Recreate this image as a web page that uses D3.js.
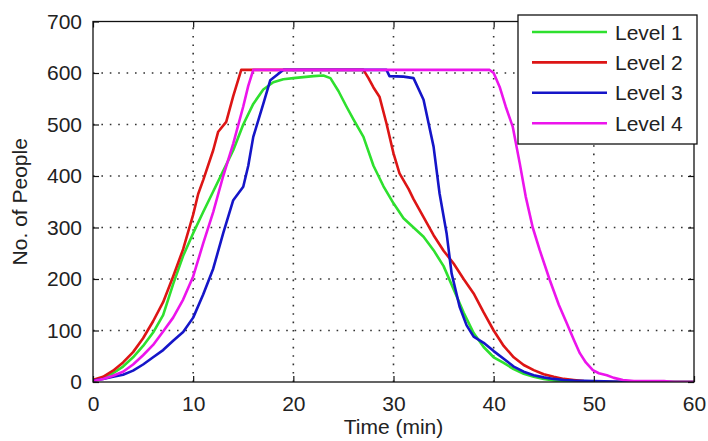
<!DOCTYPE html>
<html>
<head>
<meta charset="utf-8">
<script src="https://cdn.jsdelivr.net/npm/d3@7/dist/d3.min.js"></script>
<style>
html,body{margin:0;padding:0;background:#fff;}
svg{display:block;}
text{font-family:"Liberation Sans",Arial,sans-serif;fill:#222;}
</style>
</head>
<body>
<svg id="chart" width="708" height="441"></svg>
<script>
// ---- data ----
const seriesNames = ["Level 1", "Level 2", "Level 3", "Level 4"];
const seriesColors = ["#2ee02e", "#dd1515", "#1515c8", "#ec14ec"];

const level1T = [0,1,2,3,4,5,6,7,8,9,10,11,12,13,14,15,16,17,18,19,20,21,22,23,23.7,24.5,25.3,26,27,28,29,30,31,32,33,34,35,36,37,38,39,40,41,42,43,44,45,46,47,48,60];
const level1V = [3,8,17,30,48,70,96,130,190,245,289,330,370,410,450,500,540,568,582,588,590,592,594,595,590,565,535,510,476,420,380,347,318,300,282,256,225,180,135,95,68,48,37,25,16,10,6,3,1,0,0];

const level2T = [0,1,2,3,4,5,6,7,8,9,10,10.5,11,12,12.5,13.3,14,14.8,15,27,27.5,28,28.6,29.3,30,30.6,31.5,32,33,34,35,36,37,38,39,40,41,42,43,44,45,46,47,48,49,50,52,60];
const level2V = [4,10,22,38,58,85,118,155,205,258,325,365,392,450,486,505,555,606,606,606,590,572,554,502,444,405,375,355,320,285,255,230,200,172,135,100,70,48,33,23,15,10,6,4,2,1,0,0];

const level3T = [0,1,2,3,4,5,6,7,8,9,10,11,12,13,14,15,15.5,16,17,17.7,18.8,19,29.3,29.6,31,32,33,34,34.6,35.3,35.8,36.6,37.3,38,39,40,41,42,43,44,45,46,47,48,50,52,54,60];
const level3V = [3,6,10,14,22,34,48,62,80,97,125,170,220,289,353,379,420,476,540,586,603,606,606,594,593,590,548,457,366,289,211,146,110,88,76,60,45,30,20,13,9,6,4,3,2,1,0,0];

const level4T = [0,1,2,3,4,5,6,7,8,9,10,11,12,13,14,15,15.5,16,39.6,40,40.6,41.2,41.9,42.6,43.2,43.9,44.6,45.6,46.5,47.3,48,48.6,49.2,49.9,50.5,51.3,52,52.9,54,57,58,60];
const level4V = [2,6,12,20,34,52,72,98,125,160,205,269,330,400,463,535,575,606,606,600,573,535,496,425,360,300,256,198,150,114,82,56,38,23,17,13,8,4,2,2,0,0];

const xTicks = [0,10,20,30,40,50,60];
const yTicks = [0,100,200,300,400,500,600,700];
const xLabel = "Time (min)";
const yLabel = "No. of People";

const seriesT = [level1T, level2T, level3T, level4T];
const seriesV = [level1V, level2V, level3V, level4V];

// ---- layout ----
const W = 708, H = 441;
const m = {left: 93, right: 14, top: 21.5, bottom: 59};
const svg = d3.select("#chart");
const x = d3.scaleLinear().domain([0,60]).range([m.left, W - m.right]);
const y = d3.scaleLinear().domain([0,700]).range([H - m.bottom, m.top]);
const x0 = x.range()[0], x1 = x.range()[1], yb = y.range()[0], yt = y.range()[1];

svg.append("rect").attr("x",0).attr("y",0).attr("width",W).attr("height",H).attr("fill","#fff");
svg.append("rect").attr("x",x0).attr("y",yt).attr("width",x1-x0).attr("height",yb-yt).attr("fill","#fff");

// grid
const grid = svg.append("g");
grid.selectAll("line.gx").data(xTicks.slice(1,-1)).join("line")
  .attr("x1",d=>x(d)).attr("x2",d=>x(d)).attr("y1",yb).attr("y2",yt)
  .attr("stroke","#333").attr("stroke-width",1.6).attr("stroke-dasharray","1.6,6.8");
grid.selectAll("line.gy").data(yTicks.slice(1,-1)).join("line")
  .attr("y1",d=>y(d)).attr("y2",d=>y(d)).attr("x1",x0).attr("x2",x1)
  .attr("stroke","#333").attr("stroke-width",1.6).attr("stroke-dasharray","1.6,6.8");

// clip
svg.append("clipPath").attr("id","clip").append("rect")
  .attr("x",x0).attr("y",yt).attr("width",x1-x0).attr("height",yb-yt);

const line = d3.line().x(d=>x(d[0])).y(d=>y(d[1]));
const lines = svg.append("g").attr("clip-path","url(#clip)");
seriesNames.forEach((name,i)=>{
  const pts = seriesT[i].map((t,j)=>[t, seriesV[i][j]]);
  lines.append("path").datum(pts).attr("d",line)
    .attr("fill","none").attr("stroke",seriesColors[i]).attr("stroke-width",2.6)
    .attr("stroke-linejoin","round");
});

// axes (ticks inward, box)
const fs = 21;
const axB = svg.append("g").attr("transform",`translate(0,${yb})`)
  .call(d3.axisBottom(x).tickValues(xTicks).tickSize(-6).tickPadding(14).tickFormat(d3.format("d")));
const axT = svg.append("g").attr("transform",`translate(0,${yt})`)
  .call(d3.axisTop(x).tickValues(xTicks).tickSize(-6).tickFormat(""));
const axL = svg.append("g").attr("transform",`translate(${x0},0)`)
  .call(d3.axisLeft(y).tickValues(yTicks).tickSize(-6).tickPadding(11).tickFormat(d3.format("d")));
const axR = svg.append("g").attr("transform",`translate(${x1},0)`)
  .call(d3.axisRight(y).tickValues(yTicks).tickSize(-6).tickFormat(""));
[axB,axT,axL,axR].forEach(a=>{
  a.select(".domain").remove();
  a.selectAll(".tick line").attr("stroke","#111").attr("stroke-width",1.2);
  a.selectAll("text").attr("font-size",fs).attr("fill","#222")
    .attr("font-family","'Liberation Sans',Arial,sans-serif");
});
axB.selectAll("text").attr("dy","0.72em");

svg.append("rect").attr("x",x0).attr("y",yt).attr("width",x1-x0).attr("height",yb-yt)
  .attr("fill","none").attr("stroke","#111").attr("stroke-width",1.3);

// axis labels
svg.append("text").attr("x",(x0+x1)/2).attr("y",434).attr("text-anchor","middle")
  .attr("font-size",fs).text(xLabel);
svg.append("text").attr("transform",`translate(27,${(yt+yb)/2}) rotate(-90)`)
  .attr("text-anchor","middle").attr("font-size",fs).text(yLabel);

// legend
const lg = svg.append("g");
lg.append("rect").attr("x",518).attr("y",15).attr("width",179).attr("height",129)
  .attr("fill","#fff").attr("stroke","#111").attr("stroke-width",1.3);
seriesNames.forEach((name,i)=>{
  const cy = 32 + i*30.4;
  lg.append("line").attr("x1",532).attr("x2",607).attr("y1",cy).attr("y2",cy)
    .attr("stroke",seriesColors[i]).attr("stroke-width",2.6);
  lg.append("text").attr("x",615).attr("y",cy).attr("dy","0.36em")
    .attr("font-size",fs).text(name);
});
</script>
</body>
</html>
